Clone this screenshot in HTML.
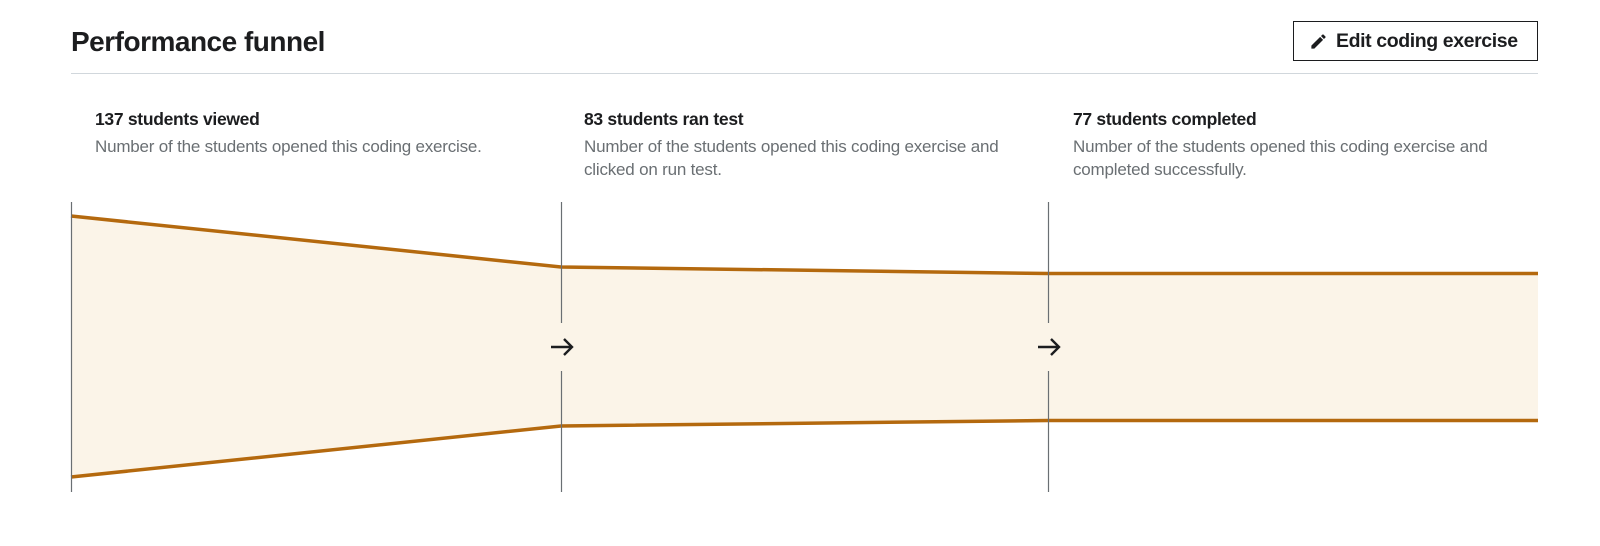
<!DOCTYPE html>
<html><head><meta charset="utf-8"><style>
*{margin:0;padding:0;box-sizing:border-box}
body{width:1600px;height:546px;background:#fff;font-family:"Liberation Sans",sans-serif;position:relative;overflow:hidden;color:#1c1d1f}
.t{position:absolute;white-space:nowrap}
h1{position:absolute;left:71px;top:26px;font-size:28px;font-weight:bold;letter-spacing:-0.5px}
.div{position:absolute;left:71px;top:73px;width:1467px;height:1px;background:#d1d7dc}
.btn{position:absolute;left:1293px;top:21px;width:245px;height:40px;border:1px solid #1c1d1f;font-weight:bold;font-size:19.5px;letter-spacing:-0.4px}
.btn span{position:absolute;left:42px;top:8px}
.h{font-size:17.5px;font-weight:bold;letter-spacing:-0.3px;top:109px}
.d{font-size:17px;color:#6a6f73;line-height:23px;top:135px;letter-spacing:-0.2px}
</style></head><body>
<h1>Performance funnel</h1>
<div class="btn"><svg style="position:absolute;left:15px;top:10px" width="19" height="19" viewBox="0 0 24 24"><path fill="#1c1d1f" d="M3 17.25V21h3.75L17.81 9.94l-3.75-3.75L3 17.25zM20.71 7.04a1 1 0 000-1.41l-2.34-2.34a1 1 0 00-1.41 0l-1.83 1.83 3.75 3.75 1.83-1.83z"/></svg><span>Edit coding exercise</span></div>
<div class="div"></div>
<div class="t h" style="left:95px">137 students viewed</div>
<div class="t d" style="left:95px">Number of the students opened this coding exercise.</div>
<div class="t h" style="left:584px">83 students ran test</div>
<div class="t d" style="left:584px">Number of the students opened this coding exercise and<br>clicked on run test.</div>
<div class="t h" style="left:1073px">77 students completed</div>
<div class="t d" style="left:1073px">Number of the students opened this coding exercise and<br>completed successfully.</div>
<svg style="position:absolute;left:0;top:0" width="1600" height="546">
<polygon points="71,216 561,267 1048,273.5 1538,273.5 1538,420.5 1048,420.5 561,426 71,477" fill="#fbf4e8"/>
<polyline points="71,216 561,267 1048,273.5 1538,273.5" fill="none" stroke="#b4690e" stroke-width="3.5"/>
<polyline points="71,477 561,426 1048,420.5 1538,420.5" fill="none" stroke="#b4690e" stroke-width="3.5"/>
<line x1="71.5" y1="202" x2="71.5" y2="492" stroke="#6a6f73" stroke-width="1.2"/>
<line x1="561.5" y1="202" x2="561.5" y2="323" stroke="#6a6f73" stroke-width="1.2"/>
<line x1="561.5" y1="371" x2="561.5" y2="492" stroke="#6a6f73" stroke-width="1.2"/>
<line x1="1048.5" y1="202" x2="1048.5" y2="323" stroke="#6a6f73" stroke-width="1.2"/>
<line x1="1048.5" y1="371" x2="1048.5" y2="492" stroke="#6a6f73" stroke-width="1.2"/>
<g fill="none" stroke="#1c1d1f" stroke-width="2.4">
<path d="M551 347H572M564 339L572 347L564 355"/>
<path d="M1038 347H1059M1051 339L1059 347L1051 355"/>
</g>
</svg>
</body></html>
